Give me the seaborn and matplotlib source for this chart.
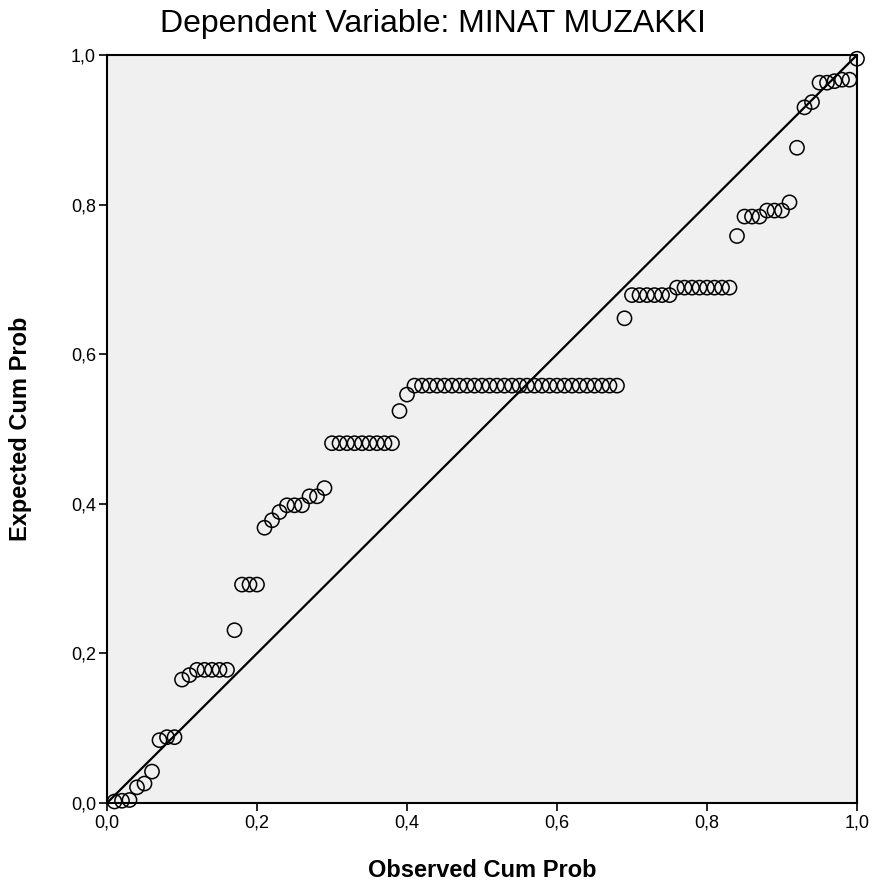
import matplotlib
matplotlib.use("Agg")
import matplotlib.pyplot as plt
import seaborn as sns
import pandas as pd

title = "Dependent Variable: MINAT MUZAKKI"
x_label = "Observed Cum Prob"
y_label = "Expected Cum Prob"
tick_values = [0.0, 0.2, 0.4, 0.6, 0.8, 1.0]
tick_labels = ["0,0", "0,2", "0,4", "0,6", "0,8", "1,0"]

observed = [
    0.01, 0.02, 0.03, 0.04, 0.05, 0.06, 0.07, 0.08, 0.09, 0.10,
    0.11, 0.12, 0.13, 0.14, 0.15, 0.16, 0.17, 0.18, 0.19, 0.20,
    0.21, 0.22, 0.23, 0.24, 0.25, 0.26, 0.27, 0.28, 0.29, 0.30,
    0.31, 0.32, 0.33, 0.34, 0.35, 0.36, 0.37, 0.38, 0.39, 0.40,
    0.41, 0.42, 0.43, 0.44, 0.45, 0.46, 0.47, 0.48, 0.49, 0.50,
    0.51, 0.52, 0.53, 0.54, 0.55, 0.56, 0.57, 0.58, 0.59, 0.60,
    0.61, 0.62, 0.63, 0.64, 0.65, 0.66, 0.67, 0.68, 0.69, 0.70,
    0.71, 0.72, 0.73, 0.74, 0.75, 0.76, 0.77, 0.78, 0.79, 0.80,
    0.81, 0.82, 0.83, 0.84, 0.85, 0.86, 0.87, 0.88, 0.89, 0.90,
    0.91, 0.92, 0.93, 0.94, 0.95, 0.96, 0.97, 0.98, 0.99, 1.00,
]
expected = [
    0.002, 0.003, 0.004, 0.021, 0.026, 0.042, 0.084, 0.088, 0.088, 0.165,
    0.171, 0.178, 0.178, 0.178, 0.178, 0.178, 0.231, 0.292, 0.292, 0.292,
    0.368, 0.378, 0.389, 0.398, 0.398, 0.398, 0.410, 0.410, 0.421, 0.481,
    0.481, 0.481, 0.481, 0.481, 0.481, 0.481, 0.481, 0.481, 0.524, 0.546,
    0.558, 0.558, 0.558, 0.558, 0.558, 0.558, 0.558, 0.558, 0.558, 0.558,
    0.558, 0.558, 0.558, 0.558, 0.558, 0.558, 0.558, 0.558, 0.558, 0.558,
    0.558, 0.558, 0.558, 0.558, 0.558, 0.558, 0.558, 0.558, 0.648, 0.679,
    0.679, 0.679, 0.679, 0.679, 0.679, 0.689, 0.689, 0.689, 0.689, 0.689,
    0.689, 0.689, 0.689, 0.758, 0.784, 0.784, 0.784, 0.792, 0.792, 0.792,
    0.803, 0.876, 0.930, 0.937, 0.963, 0.963, 0.965, 0.967, 0.967, 0.995,
]
diag = [0.0, 1.0]

df = pd.DataFrame({"observed": observed, "expected": expected})
df_line = pd.DataFrame({"x": diag, "y": diag})

sns.set_theme(style="white")
plt.rcParams["font.family"] = ["Liberation Sans", "DejaVu Sans"]

fig = plt.figure(figsize=(8.83, 8.96), dpi=100)
ax = fig.add_axes([107 / 883, 1 - 803 / 896, 750 / 883, 748 / 896])
ax.set_facecolor("#F0F0F0")

sns.lineplot(data=df_line, x="x", y="y", ax=ax, color="black", linewidth=1.6)
sns.scatterplot(data=df, x="observed", y="expected", ax=ax, marker="o", s=105,
                facecolor="none", edgecolor="black", linewidth=1.1, clip_on=False, zorder=3)

ax.set_xlim(0, 1)
ax.set_ylim(0, 1)
ax.set_xticks(tick_values)
ax.set_yticks(tick_values)
ax.set_xticklabels(tick_labels, fontsize=13)
ax.set_yticklabels(tick_labels, fontsize=13)
ax.tick_params(axis="both", direction="out", length=6, width=1.2, color="black",
               bottom=True, left=True, pad=2, labelcolor="black")
for sp in ax.spines.values():
    sp.set_color("black")
    sp.set_linewidth(1.5)

ax.set_xlabel(x_label, fontsize=17, fontweight="bold", labelpad=20, color="black")
ax.set_ylabel(y_label, fontsize=17, fontweight="bold", labelpad=28, color="black")
fig.text(0.49, 0.973, title, ha="center", va="center", fontsize=23, color="black")

fig.savefig("out.png", dpi=100, facecolor="white")
